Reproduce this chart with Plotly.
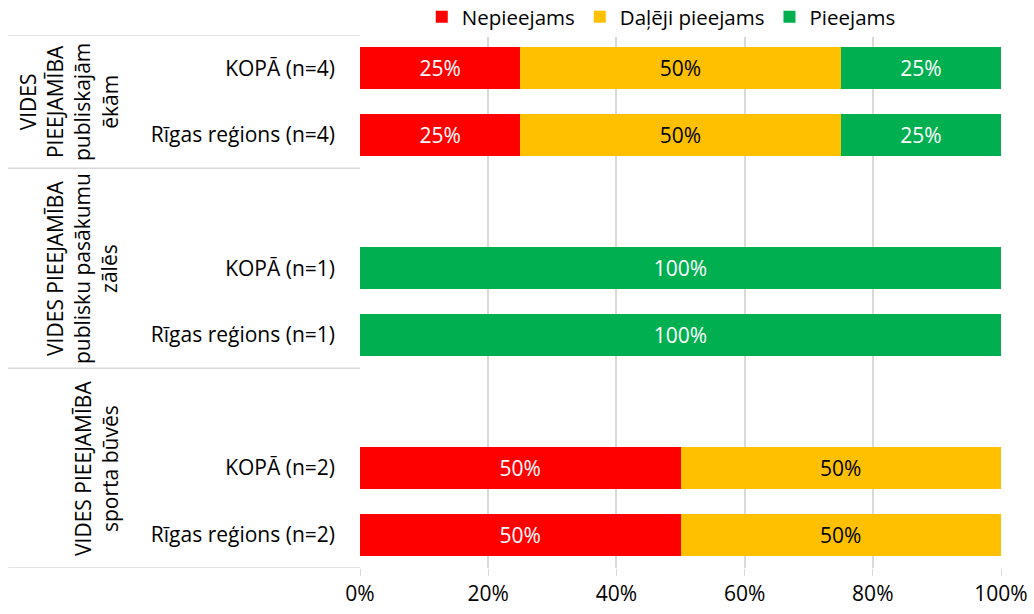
import plotly.graph_objects as go

# ---- data ----
groups = [
    "VIDES<br>PIEEJAMĪBA<br>publiskajām<br>ēkām",
    "VIDES PIEEJAMĪBA<br>publisku pasākumu<br>zālēs",
    "VIDES PIEEJAMĪBA<br>sporta būvēs",
]
row_labels = [
    ["KOPĀ (n=4)", "Rīgas reģions (n=4)"],
    ["KOPĀ (n=1)", "Rīgas reģions (n=1)"],
    ["KOPĀ (n=2)", "Rīgas reģions (n=2)"],
]
series_names = ["Nepieejams", "Daļēji pieejams", "Pieejams"]
nepieejams = [25, 25, 0, 0, 50, 50]
dalēji = [50, 50, 0, 0, 50, 50]
pieejams = [25, 25, 100, 100, 0, 0]
x_ticks = [0, 20, 40, 60, 80, 100]
x_tick_labels = ["0%", "20%", "40%", "60%", "80%", "100%"]

colors = ["#FF0000", "#FFC000", "#00B050"]
text_colors = ["white", "black", "white"]
FONT = "Open Sans"
FS = 21

# build category slots (blank spacer before groups 2 and 3, as in the original)
categories = []
row_cats = []
group_spans = []
spacer = 0
for gi, rows in enumerate(row_labels):
    start = len(categories)
    if gi > 0:
        spacer += 1
        categories.append(" " * spacer)
    for r in rows:
        categories.append(r)
        row_cats.append(r)
    group_spans.append((start, len(categories) - 1))

fig = go.Figure()
for name, vals, col, tcol in zip(series_names, [nepieejams, dalēji, pieejams], colors, text_colors):
    fig.add_trace(go.Bar(
        y=row_cats, x=vals, name=name, orientation="h",
        marker=dict(color=col, line=dict(width=0)),
        text=[f"{v}%" if v else "" for v in vals],
        textposition="inside", insidetextanchor="middle",
        textfont=dict(color=tcol, size=FS, family=FONT),
        hoverinfo="skip",
    ))

shapes = []
annotations = []
sep_ys = [-0.5] + [e + 0.5 for (_, e) in group_spans]
for yv in sep_ys:
    shapes.append(dict(type="line", xref="paper", yref="y", x0=-0.549, x1=0,
                       y0=yv, y1=yv, line=dict(color="#D9D9D9", width=1.5)))
for g, (s, e) in zip(groups, group_spans):
    annotations.append(dict(text=g, textangle=-90, xref="paper", yref="y",
                            x=-0.366, y=(s + e) / 2, xanchor="right", yanchor="middle",
                            showarrow=False, align="center",
                            font=dict(size=FS, family=FONT, color="black")))

fig.update_layout(
    width=1034, height=614,
    margin=dict(l=360, r=33, t=35, b=46, autoexpand=False),
    barmode="stack", bargap=0.37,
    plot_bgcolor="white", paper_bgcolor="white",
    font=dict(family=FONT, size=FS, color="black"),
    legend=dict(orientation="h", x=0.47, xanchor="center", y=1.034, yanchor="middle",
                font=dict(size=20.5, family=FONT), itemwidth=30, traceorder="normal"),
    shapes=shapes, annotations=annotations,
    uniformtext=dict(minsize=10, mode="show"),
)
fig.update_xaxes(range=[0, 100], tickvals=x_ticks, ticktext=x_tick_labels,
                 showgrid=True, gridcolor="#D9D9D9", gridwidth=1.5, zeroline=False,
                 ticks="outside", ticklen=7, tickcolor="#D9D9D9",
                 tickfont=dict(size=FS, family=FONT))
fig.update_yaxes(type="category", categoryorder="array", categoryarray=categories,
                 range=[len(categories) - 0.5, -0.5], showgrid=False,
                 ticks="", ticklabelstandoff=24, tickfont=dict(size=FS, family=FONT),
                 showline=False)

fig.write_html("out.html", config={"displayModeBar": False},
               post_script="document.body.style.margin='0';")
